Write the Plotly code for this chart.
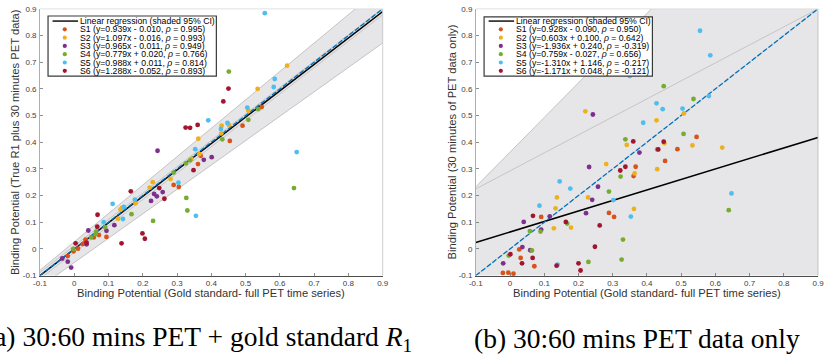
import plotly.graph_objects as go

W, H = 828, 361

# ---------------- data ----------------
series_names = ["S1", "S2", "S3", "S4", "S5", "S6"]
series_colors = ["#D95319", "#EDB120", "#7E2F8E", "#77AC30", "#4DBEEE", "#A2142F"]

left_legend_labels = [
    "S1 (y=0.939x - 0.010, <i>ρ</i> = 0.995)",
    "S2 (y=1.097x - 0.016, <i>ρ</i> = 0.993)",
    "S3 (y=0.965x - 0.011, <i>ρ</i> = 0.949)",
    "S4 (y=0.779x + 0.020, <i>ρ</i> = 0.766)",
    "S5 (y=0.988x + 0.011, <i>ρ</i> = 0.814)",
    "S6 (y=1.288x - 0.052, <i>ρ</i> = 0.893)",
]
right_legend_labels = [
    "S1 (y=0.928x - 0.090, <i>ρ</i> = 0.950)",
    "S2 (y=0.603x + 0.100, <i>ρ</i> = 0.642)",
    "S3 (y=-1.936x + 0.240, <i>ρ</i> = -0.319)",
    "S4 (y=0.759x - 0.027, <i>ρ</i> = 0.656)",
    "S5 (y=-1.310x + 1.146, <i>ρ</i> = -0.217)",
    "S6 (y=-1.171x + 0.048, <i>ρ</i> = -0.121)",
]
regression_label = "Linear regression (shaded 95% CI)"

tick_vals = [-0.1, 0, 0.1, 0.2, 0.3, 0.4, 0.5, 0.6, 0.7, 0.8, 0.9]
tick_text = ["-0.1", "0", "0.1", "0.2", "0.3", "0.4", "0.5", "0.6", "0.7", "0.8", "0.9"]

x_title = "Binding Potential (Gold standard- full PET time series)"
left_y_title = "Binding Potential (True R1 plus 30 minutes PET data)"
right_y_title = "Binding Potential (30 minutes of PET data only)"
left_caption = "(a) 30:60 mins PET + gold standard <i>R</i><sub>1</sub>"
right_caption = "(b) 30:60 mins PET data only"

# panel (a): 30:60 PET + gold standard R1
a_s1_x = [0.547, 0.491, 0.454, 0.369, 0.361, 0.290, 0.305, 0.094, 0.072, 0.057, 0.033, 0.031, 0.025, 0.011, -0.002, -0.019]
a_s1_y = [0.532, 0.462, 0.405, 0.349, 0.318, 0.240, 0.232, 0.045, 0.052, 0.043, 0.035, 0.023, 0.018, 0.001, -0.009, -0.027]
a_s2_x = [0.621, 0.535, 0.508, 0.451, 0.430, 0.429, 0.362, 0.365, 0.342, 0.281, 0.229, 0.220, 0.179, 0.139, 0.135, 0.128]
a_s2_y = [0.687, 0.600, 0.519, 0.465, 0.462, 0.433, 0.413, 0.355, 0.338, 0.262, 0.250, 0.230, 0.171, 0.154, 0.147, 0.113]
a_s3_x = [0.243, 0.401, 0.378, 0.233, 0.241, 0.258, 0.224, 0.117, 0.094, 0.041, 0.036, -0.035, -0.019, -0.009]
a_s3_y = [0.368, 0.344, 0.334, 0.206, 0.197, 0.213, 0.180, 0.089, 0.068, 0.069, 0.017, -0.036, -0.048, -0.070]
a_s4_x = [0.451, 0.537, 0.508, 0.432, 0.338, 0.326, 0.290, 0.641, 0.167, 0.327, 0.330, 0.230, 0.090, 0.064, 0.062, 0.049, -0.003]
a_s4_y = [0.665, 0.524, 0.484, 0.411, 0.332, 0.321, 0.286, 0.228, 0.130, 0.191, 0.144, 0.105, 0.082, 0.065, 0.055, 0.043, 0.000]
a_s5_x = [0.556, 0.585, 0.582, 0.505, 0.391, 0.447, 0.428, 0.353, 0.649, 0.304, 0.177, 0.145, 0.112, 0.355, 0.142, 0.086]
a_s5_y = [0.884, 0.637, 0.607, 0.530, 0.482, 0.472, 0.450, 0.374, 0.363, 0.248, 0.185, 0.157, 0.169, 0.124, 0.112, 0.100]
a_s6_x = [0.450, 0.435, 0.325, 0.338, 0.360, 0.348, 0.248, 0.165, 0.263, 0.068, 0.067, 0.036, 0.004, 0.138, 0.199, 0.206]
a_s6_y = [0.601, 0.553, 0.455, 0.454, 0.465, 0.295, 0.228, 0.216, 0.188, 0.128, 0.083, 0.023, 0.021, 0.021, 0.058, 0.038]

# panel (b): 30:60 PET only
b_s1_x = [0.545, 0.489, 0.453, 0.367, 0.361, 0.289, 0.304, 0.091, 0.027, 0.031, 0.071, -0.021, -0.005, 0.010]
b_s1_y = [0.420, 0.374, 0.330, 0.308, 0.273, 0.135, 0.120, 0.120, -0.002, -0.034, -0.065, -0.090, -0.089, -0.093]
b_s2_x = [0.220, 0.428, 0.508, 0.341, 0.451, 0.620, 0.533, 0.281, 0.364, 0.430, 0.137, 0.228, 0.133, 0.362, 0.128, 0.178]
b_s2_y = [0.516, 0.482, 0.508, 0.390, 0.396, 0.380, 0.388, 0.318, 0.283, 0.299, 0.193, 0.193, 0.152, 0.150, 0.077, 0.080]
b_s3_x = [0.242, 0.378, 0.231, 0.257, 0.240, 0.222, 0.116, 0.040, 0.091, 0.036, 0.059, -0.020]
b_s3_y = [0.504, 0.361, 0.307, 0.233, 0.184, 0.134, 0.122, 0.101, 0.072, 0.007, -0.005, -0.054]
b_s4_x = [0.449, 0.536, 0.507, 0.337, 0.430, 0.323, 0.289, 0.167, 0.058, 0.089, 0.330, 0.064, -0.004, 0.326, 0.229, 0.639]
b_s4_y = [0.610, 0.562, 0.431, 0.411, 0.373, 0.271, 0.215, 0.095, 0.067, 0.065, 0.035, -0.006, -0.025, -0.040, -0.049, 0.145]
b_s5_x = [0.555, 0.585, 0.581, 0.428, 0.446, 0.504, 0.389, 0.350, 0.145, 0.176, 0.302, 0.086, 0.353, 0.139, 0.647]
b_s5_y = [0.818, 0.726, 0.573, 0.546, 0.524, 0.526, 0.473, 0.648, 0.253, 0.226, 0.183, 0.162, 0.121, -0.059, 0.208]
b_s6_x = [0.360, 0.449, 0.433, 0.337, 0.322, 0.067, 0.163, 0.262, 0.248, 0.001, 0.066, 0.035, 0.200, 0.206, 0.136]
b_s6_y = [0.403, 0.402, 0.373, 0.308, 0.294, 0.124, 0.101, 0.088, 0.008, -0.020, -0.034, -0.054, -0.054, -0.081, -0.063]

# regression lines, confidence bands and identity line
line_x = [-0.1, 0.9]
identity_y = [-0.1, 0.9]
a_reg_y = [-0.100, 0.890]
a_ci_lo = [-0.143, 0.772]
a_ci_hi = [-0.080, 0.985]
a_inner_lo = [-0.112, 0.878]
a_inner_hi = [-0.088, 0.902]
b_reg_y = [0.024, 0.418]
b_ci_lo = [-0.187, -0.700]
b_ci_hi = [0.233, 1.533]
b_inner_hi = [0.225, 0.900]

a_points = [(a_s1_x, a_s1_y), (a_s2_x, a_s2_y), (a_s3_x, a_s3_y),
            (a_s4_x, a_s4_y), (a_s5_x, a_s5_y), (a_s6_x, a_s6_y)]
b_points = [(b_s1_x, b_s1_y), (b_s2_x, b_s2_y), (b_s3_x, b_s3_y),
            (b_s4_x, b_s4_y), (b_s5_x, b_s5_y), (b_s6_x, b_s6_y)]

# ---------------- styles ----------------
SANS = "Liberation Sans, Arial, Helvetica, sans-serif"
SERIF = "Liberation Serif, Times New Roman, serif"
BAND_FILL = "#e6e6e8"
BAND_EDGE = "#b8b8b8"
AX_TEXT = "#404040"

fig = go.Figure()


def add_panel(xa, ya, ci_lo, ci_hi, reg_y, points, extra_lines):
    band_x = line_x + line_x[::-1]
    band_y = ci_hi + ci_lo[::-1]
    fig.add_trace(go.Scatter(x=band_x, y=band_y, fill="toself", fillcolor=BAND_FILL,
                             line=dict(color=BAND_EDGE, width=0.8), mode="lines",
                             hoverinfo="skip", showlegend=False, xaxis=xa, yaxis=ya))
    for ys in extra_lines:
        fig.add_trace(go.Scatter(x=line_x, y=ys, mode="lines",
                                 line=dict(color="#bdbdbd", width=0.8),
                                 hoverinfo="skip", showlegend=False, xaxis=xa, yaxis=ya))
    fig.add_trace(go.Scatter(x=line_x, y=identity_y, mode="lines",
                             line=dict(color="#c0c0c0", width=0.8),
                             hoverinfo="skip", showlegend=False, xaxis=xa, yaxis=ya))
    fig.add_trace(go.Scatter(x=line_x, y=reg_y, mode="lines",
                             line=dict(color="#000000", width=1.5),
                             name=regression_label, showlegend=False, xaxis=xa, yaxis=ya))
    fig.add_trace(go.Scatter(x=line_x, y=identity_y, mode="lines",
                             line=dict(color="#0072BD", width=1.3, dash="5px,2px"),
                             hoverinfo="skip", showlegend=False, xaxis=xa, yaxis=ya))
    for (xs, ys), name, col in zip(points, series_names, series_colors):
        fig.add_trace(go.Scatter(x=xs, y=ys, mode="markers", name=name,
                                 marker=dict(color=col, size=4.8, line=dict(width=0)),
                                 showlegend=False, xaxis=xa, yaxis=ya, cliponaxis=False))


add_panel("x", "y", a_ci_lo, a_ci_hi, a_reg_y, a_points, [a_inner_lo, a_inner_hi])
add_panel("x2", "y2", b_ci_lo, b_ci_hi, b_reg_y, b_points, [b_inner_hi])

# ---------------- layout ----------------
def px_x(p):
    return p / W


def px_y(p):
    return 1 - p / H


PLOT_TOP, PLOT_BOT = 5.0, 278.5
A_L, A_R = 33.5, 381.7
B_L, B_R = 476.3, 824.0
ydom = [px_y(PLOT_BOT), px_y(PLOT_TOP)]

axis_common = dict(range=[-0.1, 0.9], tickvals=tick_vals, ticktext=tick_text,
                   ticks="inside", ticklen=3, tickwidth=0.8, tickcolor="#707070",
                   showgrid=False, zeroline=False, showline=True,
                   tickfont=dict(family=SANS, size=8, color=AX_TEXT))

xcommon = dict(axis_common, linecolor="#4d4d4d", linewidth=1.6, ticklabelstandoff=-1)
ycommon = dict(axis_common, linecolor="#9a9a9a", linewidth=0.8, ticklabelstandoff=1)

fig.update_layout(
    width=W, height=H,
    margin=dict(l=0, r=0, t=0, b=0),
    paper_bgcolor="white", plot_bgcolor="white",
    showlegend=False,
    xaxis=dict(xcommon, domain=[px_x(A_L), px_x(A_R)], anchor="y"),
    yaxis=dict(ycommon, domain=ydom, anchor="x"),
    xaxis2=dict(xcommon, domain=[px_x(B_L), px_x(B_R)], anchor="y2"),
    yaxis2=dict(ycommon, domain=ydom, anchor="x2"),
)

shapes = []
annotations = []

# top / right frame lines
for L, R in [(A_L, A_R), (B_L, B_R)]:
    shapes.append(dict(type="line", xref="paper", yref="paper", x0=px_x(R), x1=px_x(R),
                       y0=px_y(PLOT_BOT), y1=px_y(PLOT_TOP), line=dict(color="#cfcfcf", width=1), layer="above"))
    shapes.append(dict(type="line", xref="paper", yref="paper", x0=px_x(L), x1=px_x(R),
                       y0=px_y(PLOT_TOP), y1=px_y(PLOT_TOP), line=dict(color="#d8d8d8", width=0.8), layer="above"))

# custom legends
row_y = [17.5 + 8.5 * i for i in range(7)]
for (box_l, box_t, labels) in [(41.7, 12.3, left_legend_labels), (484.7, 13.3, right_legend_labels)]:
    box_r = box_l + 171.0
    box_b = 74.0
    shapes.append(dict(type="rect", xref="paper", yref="paper",
                       x0=px_x(box_l), x1=px_x(box_r), y0=px_y(box_b), y1=px_y(box_t),
                       fillcolor="white", line=dict(color="#3a3a3a", width=1.2), layer="above"))
    shapes.append(dict(type="line", xref="paper", yref="paper",
                       x0=px_x(box_l + 4.6), x1=px_x(box_l + 30.5),
                       y0=px_y(row_y[0]), y1=px_y(row_y[0]),
                       line=dict(color="black", width=1.4), layer="above"))
    annotations.append(dict(text=regression_label, xref="paper", yref="paper",
                            x=px_x(box_l + 31.0), y=px_y(row_y[0]), xanchor="left", yanchor="middle",
                            showarrow=False, borderpad=0,
                            font=dict(family=SANS, size=8.7, color="black")))
    for i, (lab, col) in enumerate(zip(labels, series_colors)):
        yy = row_y[i + 1]
        shapes.append(dict(type="circle", xref="paper", yref="paper",
                           xsizemode="pixel", ysizemode="pixel",
                           xanchor=px_x(box_l + 17.0), yanchor=px_y(yy),
                           x0=-2.1, x1=2.1, y0=-2.1, y1=2.1,
                           fillcolor=col, line=dict(width=0), layer="above"))
        annotations.append(dict(text=lab, xref="paper", yref="paper",
                                x=px_x(box_l + 31.0), y=px_y(yy), xanchor="left", yanchor="middle",
                                showarrow=False, borderpad=0,
                                font=dict(family=SANS, size=8.7, color="black")))

# axis titles
for L, R, ytitle, ytx in [(A_L, A_R, left_y_title, 8.0), (B_L, B_R, right_y_title, 452.3)]:
    annotations.append(dict(text=x_title, xref="paper", yref="paper",
                            x=px_x((L + R) / 2), y=px_y(296.8), xanchor="center", yanchor="middle",
                            showarrow=False, borderpad=0,
                            font=dict(family=SANS, size=11.2, color="#333333")))
    annotations.append(dict(text=ytitle, xref="paper", yref="paper", textangle=-90,
                            x=px_x(ytx), y=px_y((PLOT_TOP + PLOT_BOT) / 2), xanchor="center", yanchor="middle",
                            showarrow=False, borderpad=0,
                            font=dict(family=SANS, size=11.2, color="#333333")))

# captions
annotations.append(dict(text=left_caption, xref="paper", yref="paper",
                        x=px_x(413), y=px_y(343), xanchor="right", yanchor="middle",
                        showarrow=False, font=dict(family=SERIF, size=27.5, color="black")))
annotations.append(dict(text=right_caption, xref="paper", yref="paper",
                        x=px_x(640), y=px_y(343), xanchor="center", yanchor="middle",
                        showarrow=False, font=dict(family=SERIF, size=27.5, color="black")))

fig.update_layout(shapes=shapes, annotations=annotations)

fig.write_html("out.html",
               config={"displayModeBar": False, "staticPlot": True},
               post_script="document.body.style.margin='0';document.body.style.padding='0';"
                           "document.body.style.overflow='hidden';")
